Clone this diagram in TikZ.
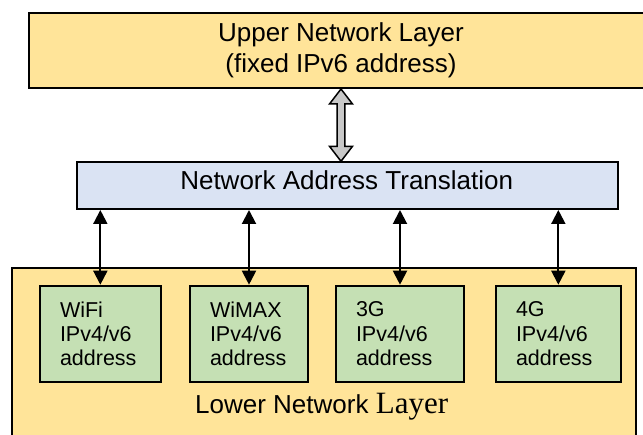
\documentclass[tikz,border=0pt]{standalone}
\usepackage{fontspec}
\setmainfont{Liberation Sans}
\newfontfamily\serifL{Liberation Serif}
\usetikzlibrary{arrows.meta}
\definecolor{layerfill}{RGB}{255,228,153}
\definecolor{natfill}{RGB}{218,227,243}
\definecolor{netfill}{RGB}{197,224,180}
\definecolor{arrowgray}{RGB}{200,200,200}
\tikzset{
  layerbox/.style={draw=black, line width=2pt, fill=layerfill, inner sep=0pt},
  natbox/.style={draw=black, line width=2pt, fill=natfill, inner sep=0pt},
  netbox/.style={draw=black, line width=2pt, fill=netfill, minimum height=96.3pt,
     inner xsep=20pt, inner ysep=0pt, align=left,
     font=\fontsize{21.5}{24.3}\selectfont},
  bigtext/.style={inner sep=0pt, anchor=base, font=\fontsize{26}{31}\selectfont},
  link/.style={<->, line width=2pt, >={Triangle[length=14pt,width=14pt]}},
  thickarrow/.style={draw=black, line width=1.5pt, fill=arrowgray, line join=miter}
}
\begin{document}
\begin{tikzpicture}[x=1pt,y=-1pt]
\useasboundingbox (0,0) rectangle (643,435);
\clip (0,0) rectangle (643,435);
% layers
\node[layerbox, minimum width=671pt, minimum height=75.3pt] (upper) at (364.5,50.35) {};
\node[layerbox, minimum width=624pt, minimum height=192pt] (lower) at (324,364) {};
\node[natbox, minimum width=540.7pt, minimum height=46.7pt] (nat) at (347.35,185.65) {};
% texts
\node[bigtext] (uptext1) at (341,41.7) {Upper Network Layer};
\node[bigtext] (uptext2) at (341,72.7) {(fixed IPv6 address)};
\node[bigtext] (nattext) at (346.7,189.3) {Network Address Translation};
\node[inner sep=0pt, anchor=base west] (lowtext) at (195,413.3)
  {\fontsize{26}{31}\selectfont Lower Network {\serifL\fontsize{31}{34}\selectfont Layer}};
% network boxes
\node[netbox, minimum width=120.7pt, text width=80.7pt] (wifi) at (100.35,333.85) {WiFi\\IPv4/v6\\address};
\node[netbox, minimum width=118pt, text width=78pt] (wimax) at (249,333.85) {WiMAX\\IPv4/v6\\address};
\node[netbox, minimum width=128pt, text width=88pt] (g3) at (400,333.85) {3G\\IPv4/v6\\address};
\node[netbox, minimum width=124.7pt, text width=84.7pt] (g4) at (558.35,333.85) {4G\\IPv4/v6\\address};
% links
\foreach \n in {wifi,wimax,g3,g4}
  \draw[link] (\n.north |- nat.south) -- (\n.north);
% grey double arrow
\coordinate (gx) at (341,0);
\coordinate (ga) at (upper.south -| gx);
\coordinate (gb) at (nat.north -| gx);
\draw[thickarrow] (ga) -- ([shift={(11.5,15)}]ga) -- ([shift={(3.8,15)}]ga)
  -- ([shift={(3.8,-15)}]gb) -- ([shift={(11.5,-15)}]gb) -- (gb)
  -- ([shift={(-11.5,-15)}]gb) -- ([shift={(-3.8,-15)}]gb)
  -- ([shift={(-3.8,15)}]ga) -- ([shift={(-11.5,15)}]ga) -- cycle;
\end{tikzpicture}
\end{document}
